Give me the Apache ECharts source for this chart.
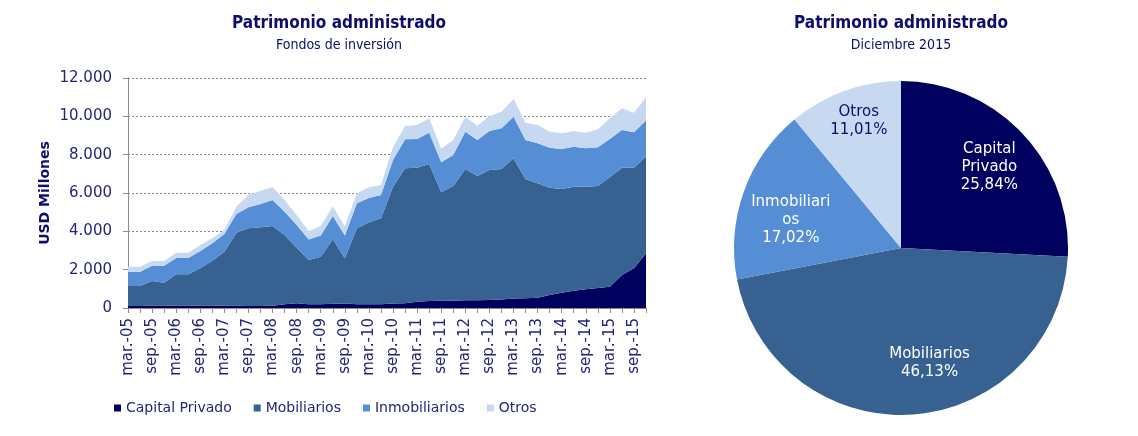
<!DOCTYPE html>
<html>
<head>
<meta charset="utf-8">
<script src="https://cdn.jsdelivr.net/npm/echarts@6/dist/echarts.min.js"></script>
<style>
html,body{margin:0;padding:0;background:#fff}
#chart{width:1138px;height:436px}
</style>
</head>
<body>
<div id="chart"></div>
<script>
// trimestres mar-05 .. dic-15
var quarters = [
  'mar.-05','jun.-05','sep.-05','dic.-05','mar.-06','jun.-06','sep.-06','dic.-06',
  'mar.-07','jun.-07','sep.-07','dic.-07','mar.-08','jun.-08','sep.-08','dic.-08',
  'mar.-09','jun.-09','sep.-09','dic.-09','mar.-10','jun.-10','sep.-10','dic.-10',
  'mar.-11','jun.-11','sep.-11','dic.-11','mar.-12','jun.-12','sep.-12','dic.-12',
  'mar.-13','jun.-13','sep.-13','dic.-13','mar.-14','jun.-14','sep.-14','dic.-14',
  'mar.-15','jun.-15','sep.-15','dic.-15'
];

var capitalPrivado = [110,110,115,115,120,120,120,120,115,115,110,110,120,200,250,200,
  200,220,230,200,190,200,230,250,330,360,380,380,400,410,420,450,
  500,510,540,680,800,900,975,1045,1110,1720,2070,2840];
var mobiliarios = [1040,1040,1294,1207,1637,1637,1950,2349,2823,3815,4046,4098,4160,3610,2900,2300,
  2480,3370,2360,3960,4290,4480,6100,7040,6990,7150,5660,5985,6850,6475,6780,6800,
  7310,6205,5965,5595,5410,5430,5355,5320,5710,5600,5250,5070];
var inmobiliarios = [745,745,799,886,851,851,903,905,923,974,1096,1218,1350,1215,1180,1070,
  1100,1210,1190,1300,1260,1215,1390,1510,1500,1640,1570,1615,1950,1880,2035,2125,
  2170,2050,2085,2090,2085,2085,2000,2020,2000,1965,1845,1870];
var otros = [262,262,244,244,279,279,314,261,208,382,643,695,670,610,520,440,
  510,500,490,525,560,525,665,695,730,750,700,785,780,745,785,865,
  920,905,960,835,820,820,815,935,1080,1135,1025,1210];

var seriesNames = ['Capital Privado','Mobiliarios','Inmobiliarios','Otros'];
var pieLabels = ['Capital\nPrivado','Mobiliarios','Inmobiliari\nos','Otros'];
var piePct = [25.84, 46.13, 17.02, 11.01];

var colors = ['#00005e','#376191','#558ed5','#c6d9f1'];
var navy = '#0d0d6b';
var txt = '#24247a';
var font = 'DejaVu Sans';
var titleFont = '"DejaVu Sans Condensed", "DejaVu Sans"';

// nudges for the pie texts, like the original placement
var piePadding = [[0, 4, 0, 0], [0, 0, 0, 40], [0, 0, 0, 14], [0, 0, 0, 0]];
var pieGapTop = [10, 0, 28, 0];
var pieGapBottom = [0, 18, 0, 20];

var dom = document.getElementById('chart');
var myChart = echarts.init(dom, null, {renderer: 'canvas'});

var areaData = [capitalPrivado, mobiliarios, inmobiliarios, otros];
var areaSeries = areaData.map(function (vals, i) {
  return {
    name: seriesNames[i],
    type: 'line',
    stack: 'total',
    data: vals,
    symbol: 'none',
    silent: true,
    color: colors[i],
    lineStyle: {width: 0},
    areaStyle: {color: colors[i], opacity: 1}
  };
});

var pieBase = piePct.map(function (v, i) {
  return {name: seriesNames[i], value: v, itemStyle: {color: colors[i]}};
});
var pieLabelData = piePct.map(function (v, i) {
  var rich = {};
  if (pieGapTop[i]) rich.gt = {lineHeight: pieGapTop[i], fontSize: 1};
  if (pieGapBottom[i]) rich.gb = {lineHeight: pieGapBottom[i], fontSize: 1};
  return {
    name: seriesNames[i], value: v,
    itemStyle: {color: 'rgba(0,0,0,0)'},
    label: {color: i === 3 ? navy : '#ffffff', padding: piePadding[i], rich: rich}
  };
});

function fmtThousands(v) {
  return String(v).replace(/\B(?=(\d{3})+(?!\d))/g, '.');
}

var option = {
  animation: false,
  textStyle: {fontFamily: font},
  title: [{
    text: 'Patrimonio administrado',
    subtext: 'Fondos de inversión',
    left: 339, top: 15, padding: 0, itemGap: 6,
    textAlign: 'center',
    textStyle: {fontFamily: titleFont, fontSize: 17, fontWeight: 'bold', color: navy},
    subtextStyle: {fontFamily: titleFont, fontSize: 14, color: navy}
  }, {
    text: 'Patrimonio administrado',
    subtext: 'Diciembre 2015',
    left: 901, top: 15, padding: 0, itemGap: 6,
    textAlign: 'center',
    textStyle: {fontFamily: titleFont, fontSize: 17, fontWeight: 'bold', color: navy},
    subtextStyle: {fontFamily: titleFont, fontSize: 14, color: navy}
  }],
  legend: {
    data: seriesNames,
    left: 114, top: 401,
    icon: 'rect', itemWidth: 7, itemHeight: 7, itemGap: 22,
    padding: 0,
    textStyle: {fontFamily: font, fontSize: 14, color: txt}
  },
  grid: {left: 128, right: 492, top: 78, bottom: 128, containLabel: false},
  xAxis: {
    type: 'category',
    data: quarters,
    boundaryGap: false,
    axisLine: {lineStyle: {color: '#8c8c8c', width: 1}},
    axisTick: {show: true, interval: 0, length: 5, lineStyle: {color: '#8c8c8c'}},
    axisLabel: {interval: 1, rotate: 90, margin: 10, fontSize: 15, color: txt, fontFamily: font},
    splitLine: {show: false}
  },
  yAxis: {
    type: 'value',
    min: 0, max: 12000, interval: 2000,
    name: 'USD Millones',
    nameLocation: 'middle',
    nameRotate: 90,
    nameGap: 76,
    nameTextStyle: {fontFamily: font, fontSize: 14, fontWeight: 'bold', color: navy},
    axisLine: {show: true, lineStyle: {color: '#8c8c8c', width: 1}},
    axisTick: {show: true, length: 5, lineStyle: {color: '#8c8c8c'}},
    axisLabel: {fontSize: 15, color: txt, margin: 16, fontFamily: font, formatter: fmtThousands},
    splitLine: {show: true, lineStyle: {color: '#8a8a8a', type: [2, 2], width: 1}}
  },
  series: areaSeries.concat([{
    type: 'pie',
    silent: true,
    center: [901, 248],
    radius: 167,
    startAngle: 90,
    clockwise: true,
    label: {show: false},
    labelLine: {show: false},
    data: pieBase
  }, {
    type: 'pie',
    silent: true,
    center: [901, 248],
    radius: [76, 167],
    startAngle: 90,
    clockwise: true,
    avoidLabelOverlap: false,
    labelLine: {show: false},
    label: {
      show: true,
      position: 'inside',
      fontFamily: font,
      fontSize: 15,
      lineHeight: 18,
      formatter: function (p) {
        var i = p.dataIndex;
        var s = pieLabels[i] + '\n' + piePct[i].toFixed(2).replace('.', ',') + '%';
        if (pieGapTop[i]) s = '{gt| }\n' + s;
        if (pieGapBottom[i]) s = s + '\n{gb| }';
        return s;
      }
    },
    data: pieLabelData
  }])
};

if (option && typeof option === 'object') {
  myChart.setOption(option, true);
}
</script>
</body>
</html>
